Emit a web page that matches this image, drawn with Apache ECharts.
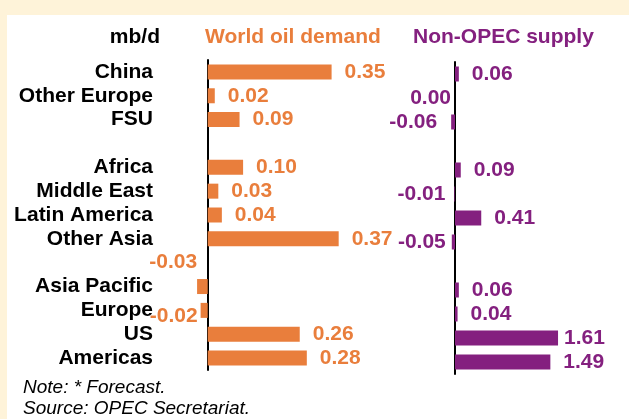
<!DOCTYPE html>
<html><head><meta charset="utf-8">
<script src="https://cdn.jsdelivr.net/npm/echarts@6/dist/echarts.min.js"></script>
<style>html,body{margin:0;padding:0;background:#FEF3D9;}#c{width:629px;height:419px;}</style>
</head><body><div id="c"></div>
<script>
const categories = ['China','Other Europe','FSU',' ','Africa','Middle East','Latin America','Other Asia','  ','Asia Pacific','Europe','US','Americas'];
const demand = [0.35,0.02,0.09,null,0.10,0.03,0.04,0.37,null,-0.03,-0.02,0.26,0.28];
const supply = [0.06,0.00,-0.06,null,0.09,-0.01,0.41,-0.05,null,0.06,0.04,1.61,1.49];
const panelTitles = ['World oil demand','Non-OPEC supply'];
const unitLabel = 'mb/d';
const notes = ['Note: * Forecast.','Source: OPEC Secretariat.'];

const ORANGE = '#E97E3C', PURPLE = '#84207F';
const FONT = 'Liberation Sans, Arial, sans-serif';
const FS = 21;
const demandTweaks = {
  'Asia Pacific': {position:'left', distance:0, offset:[0,-24]},
  'Europe': {position:'left', distance:3, offset:[0,6]}
};
const supplyTweaks = {
  'Other Europe': {position:'left', distance:4},
  'FSU': {position:'left', distance:14},
  'Middle East': {position:'left', distance:9},
  'Other Asia': {position:'left', distance:6},
  'US': {distance:6}
};
function build(vals, tweaks, color){
  return vals.map((v,i)=>{
    if(v==null) return '-';
    const base = {show:true, position: v<0?'left':'right', distance:13, color:color,
      fontFamily:FONT, fontWeight:'bold', fontSize:FS, formatter:(p)=>Number(p.value).toFixed(2)};
    return {value:v, label:Object.assign(base, tweaks[categories[i]]||{})};
  });
}
const chart = echarts.init(document.getElementById('c'));
const hiddenX = {axisLine:{show:false},axisTick:{show:false},axisLabel:{show:false},splitLine:{show:false}};
chart.setOption({
  backgroundColor:'#FEF3D9',
  animation:false,
  graphic:[
    {type:'rect', z:-100, shape:{x:7,y:15,width:622,height:404}, style:{fill:'#ffffff'}},
    {type:'text', style:{text:unitLabel, x:160, y:37, textAlign:'right', textVerticalAlign:'middle', font:'bold '+FS+'px '+FONT, fill:'#000'}},
    {type:'text', style:{text:panelTitles[0], x:205, y:37, textAlign:'left', textVerticalAlign:'middle', font:'bold '+FS+'px '+FONT, fill:ORANGE}},
    {type:'text', style:{text:panelTitles[1], x:413, y:37, textAlign:'left', textVerticalAlign:'middle', font:'bold '+FS+'px '+FONT, fill:PURPLE}},
    {type:'text', style:{text:notes[0], x:23, y:388, textAlign:'left', textVerticalAlign:'middle', font:'italic 19px '+FONT, fill:'#000'}},
    {type:'text', style:{text:notes[1], x:23, y:409, textAlign:'left', textVerticalAlign:'middle', font:'italic 19px '+FONT, fill:'#000'}}
  ],
  grid:[
    {left:190, top:60, width:177, height:310},
    {left:423, top:62, width:160, height:312}
  ],
  xAxis:[
    Object.assign({type:'value', gridIndex:0, min:-0.05, max:0.45}, hiddenX),
    Object.assign({type:'value', gridIndex:1, min:-0.5, max:2.0}, hiddenX)
  ],
  yAxis:[
    {type:'category', gridIndex:0, data:categories, inverse:true, position:'left',
      axisLine:{onZero:true, lineStyle:{color:'#000', width:2}}, axisTick:{show:false}, axisLabel:{show:false}},
    {type:'category', gridIndex:0, data:categories, inverse:true, position:'left',
      axisLine:{show:false, onZero:false}, axisTick:{show:false},
      axisLabel:{interval:0, hideOverlap:false, margin:37, color:'#000', fontFamily:FONT, fontWeight:'bold', fontSize:FS}},
    {type:'category', gridIndex:1, data:categories, inverse:true, position:'left',
      axisLine:{onZero:true, lineStyle:{color:'#000', width:2}}, axisTick:{show:false}, axisLabel:{show:false}}
  ],
  series:[
    {type:'bar', xAxisIndex:0, yAxisIndex:0, data:build(demand, demandTweaks, ORANGE), barWidth:15,
      itemStyle:{color:ORANGE}, z:3},
    {type:'bar', xAxisIndex:1, yAxisIndex:2, data:build(supply, supplyTweaks, PURPLE), barWidth:15,
      itemStyle:{color:PURPLE}, z:3}
  ]
});
</script></body></html>
